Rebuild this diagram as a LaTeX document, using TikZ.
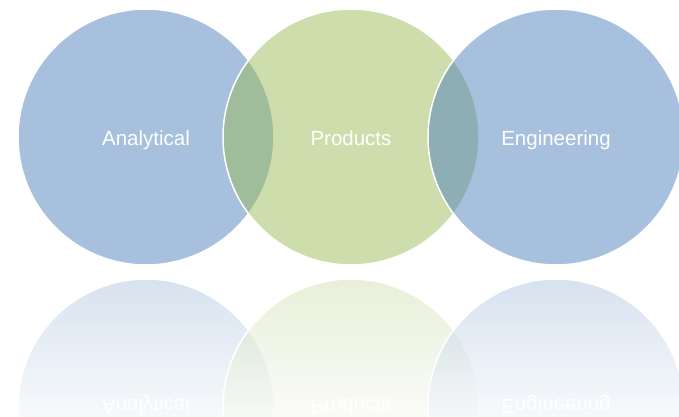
\documentclass[tikz,border=0pt]{standalone}
\usepackage{fontspec}
\setmainfont{Liberation Sans}
\usepackage{tikz}
\usetikzlibrary{fadings}
\definecolor{vblue}{HTML}{4F81BD}
\definecolor{vgreen}{HTML}{9BBB59}
\tikzfading[name=reflfade, top color=transparent!47, bottom color=transparent!8]

\begin{document}
\begin{tikzpicture}[x=1pt, y=-1pt,
  venn/.style={circle, minimum size=256pt, inner sep=0pt, draw=white, line width=1.5pt,
    fill opacity=0.5, text opacity=1, text=white, text height=20pt, text depth=4pt,
    font=\fontsize{20.5}{24}\selectfont}]
\clip (0,0) rectangle (679,417);
% circles
\node[venn, fill=vblue] (ana) at (146,137) {Analytical};
\node[venn, fill=vgreen] (prod) at (351,137) {Products};
\node[venn, fill=vblue] (eng) at (556,137) {Engineering};
% reflection
\begin{scope}[shift={(0,544)}, yscale=-1]
\node[venn, fill=vblue, transform shape] (anar) at (146,137) {Analytical};
\node[venn, fill=vgreen, transform shape] (prodr) at (351,137) {Products};
\node[venn, fill=vblue, transform shape] (engr) at (556,137) {Engineering};
\end{scope}
\fill[white, path fading=reflfade] (0,272) rectangle (679,417);
\end{tikzpicture}
\end{document}
